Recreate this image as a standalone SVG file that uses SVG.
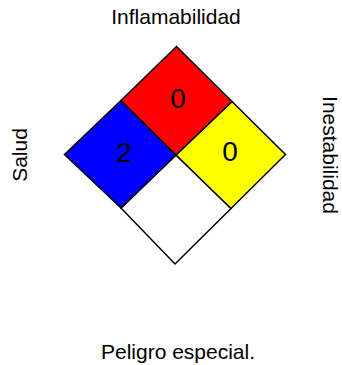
<svg xmlns="http://www.w3.org/2000/svg" width="342" height="365" viewBox="0 0 342 365">
<style>
.cell{stroke:#000;stroke-width:1.5;stroke-linejoin:miter}
.num{font-family:"Liberation Sans",Arial,sans-serif;font-size:28px;text-anchor:middle;fill:#000}
.lbl{font-family:"Liberation Sans",Arial,sans-serif;font-size:21px;text-anchor:middle;fill:#000}
</style>
<rect width="342" height="365" fill="#fff"/>
<g id="white">
<polygon class="cell" fill="#fff" points="176,155 231,208.5 175,264 121,208"/>
</g>
<g id="blue">
<polygon class="cell" fill="#0000ff" points="121,100.5 176,155 121,208 64.5,154.5"/>
<text class="num" x="124" y="162">2</text>
</g>
<g id="yellow">
<polygon class="cell" fill="#ffff00" points="232,101.5 285.5,154.5 231,208.5 176,155"/>
<text class="num" x="230" y="161">0</text>
</g>
<g id="red">
<polygon class="cell" fill="#ff0000" points="176.5,46.5 232,101.5 176,155 121,100.5"/>
<text class="num" x="178" y="108">0</text>
</g>
<g id="labels">
<text class="lbl" x="176" y="24">Inflamabilidad</text>
<text class="lbl" transform="translate(27,155) rotate(-90)">Salud</text>
<text class="lbl" transform="translate(323,155) rotate(90)">Inestabilidad</text>
<text class="lbl" x="178" y="359">Peligro especial.</text>
</g>
</svg>
